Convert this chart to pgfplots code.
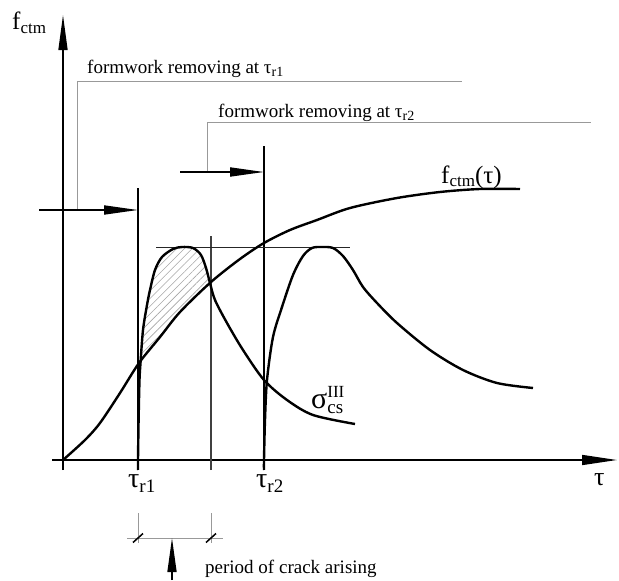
\documentclass[border=0pt]{standalone}
\usepackage{pgfplots}
\pgfplotsset{compat=1.18}
\usepackage{fontspec}
\setmainfont{Liberation Serif}
\usetikzlibrary{arrows.meta,patterns.meta}
\begin{document}
\begin{tikzpicture}
\begin{axis}[
  scale only axis, width=619pt, height=580pt,
  xmin=0,xmax=619,ymin=0,ymax=580, y dir=reverse,
  hide axis, clip=false]
\path (axis cs:0,0) rectangle (axis cs:619,580);

% hatched region
\addplot[draw=none, pattern={Lines[angle=45,distance=5.5pt,line width=0.6pt]}, pattern color=gray!70]
 coordinates {(140,363) (143,330) (147,305) (150,290) (155,270) (162,257) (173,249) (182,247) (193,248) (202,256) (206,268) (209,281)
 (180,312) (160,337) (140,363)} -- cycle;

% axes
\draw[line width=1.5pt, -{Triangle[length=35pt,width=10pt]}] (axis cs:52,460) -- (axis cs:617,460);
\draw[line width=1.5pt, -{Triangle[length=35pt,width=9pt]}] (axis cs:63,470) -- (axis cs:63,15);

% vertical lines
\draw[line width=1.3pt] (axis cs:138,470) -- (axis cs:138,188);
\draw[line width=1.3pt] (axis cs:264,470) -- (axis cs:264,146);
\draw[line width=1.3pt, black!75] (axis cs:211,470) -- (axis cs:211,236);
\draw[line width=1.1pt, black!85] (axis cs:156,247.5) -- (axis cs:350,247.5);

% gray brackets
\draw[line width=1pt, gray!80] (axis cs:77,210) -- (axis cs:77,81) -- (axis cs:462,81);
\draw[line width=1pt, gray!80] (axis cs:207,172) -- (axis cs:207,122) -- (axis cs:591,122);
\draw[line width=1.8pt, -{Triangle[length=34pt,width=9pt]}] (axis cs:39,210) -- (axis cs:138,210);
\draw[line width=1.8pt, -{Triangle[length=34pt,width=9pt]}] (axis cs:180,172) -- (axis cs:264,172);

% curves
\addplot[black, line width=2.4pt, smooth] coordinates {(63,460) (85,440) (100,423) (120,393) (139,363) (160,337) (180,312) (211,282) (240,259) (264,243) (290,230) (317,220) (350,208) (397,198) (440,192) (480,189) (520,189)};
\addplot[black, line width=2.4pt, smooth] coordinates {(138,470) (138,460) (138.6,420) (139.5,380) (140.5,363) (143,330) (147,305) (150,290) (155,270) (162,257) (173,249) (182,247) (193,248) (201,255) (206,268) (210,283) (215,300) (227,323) (243,350) (264,380) (287,400) (313,415) (355,424)};
\addplot[black, line width=2.4pt, smooth] coordinates {(264,470) (264,460) (265,420) (267,380) (273,337) (282,307) (293,275) (303,256) (312,248) (322,247) (333,248) (343,256) (353,270) (363,287) (377,303) (397,323) (430,350) (463,370) (497,383) (533,388)};

% dimension
\draw[line width=1pt, gray!80] (axis cs:138,513) -- (axis cs:138,543);
\draw[line width=1pt, gray!80] (axis cs:211,513) -- (axis cs:211,543);
\draw[line width=1pt, gray!80] (axis cs:127,538) -- (axis cs:223,538);
\draw[line width=1.5pt] (axis cs:133,542.5) -- (axis cs:143,533.5);
\draw[line width=1.5pt] (axis cs:206,542.5) -- (axis cs:216,533.5);
\draw[line width=1.5pt, -{Triangle[length=34pt,width=9pt]}] (axis cs:172,580) -- (axis cs:172,538);

% labels
\node[anchor=base west, inner sep=0pt] at (axis cs:12,30) {\fontsize{25}{25}\selectfont f\raisebox{-3pt}{\fontsize{17}{17}\selectfont ctm}};
\node[anchor=base west, inner sep=0pt] at (axis cs:441,183) {\fontsize{25}{25}\selectfont f\raisebox{-3pt}{\fontsize{17}{17}\selectfont ctm}(τ)};
\node[anchor=base west, inner sep=0pt] at (axis cs:87,73) {\fontsize{19}{22}\selectfont formwork removing at τ\raisebox{-3pt}{\fontsize{14}{14}\selectfont r1}};
\node[anchor=base west, inner sep=0pt] at (axis cs:218,117) {\fontsize{19}{22}\selectfont formwork removing at τ\raisebox{-3pt}{\fontsize{14}{14}\selectfont r2}};
\node[anchor=base west, inner sep=0pt] at (axis cs:205,573) {\fontsize{19}{22}\selectfont period of crack arising};
\node[anchor=base west, inner sep=0pt] at (axis cs:128,487) {\fontsize{28}{28}\selectfont τ\raisebox{-5pt}{\fontsize{19}{19}\selectfont r1}};
\node[anchor=base west, inner sep=0pt] at (axis cs:256,487) {\fontsize{28}{28}\selectfont τ\raisebox{-5pt}{\fontsize{19}{19}\selectfont r2}};
\node[anchor=base west, inner sep=0pt] at (axis cs:594,485) {\fontsize{26}{26}\selectfont τ};
\node[anchor=base west, inner sep=0pt] at (axis cs:311,408) {\fontsize{30}{30}\selectfont σ\rlap{\raisebox{11pt}{\fontsize{17}{17}\selectfont III}}\raisebox{-5pt}{\fontsize{19}{19}\selectfont cs}};
\end{axis}
\end{tikzpicture}
\end{document}
